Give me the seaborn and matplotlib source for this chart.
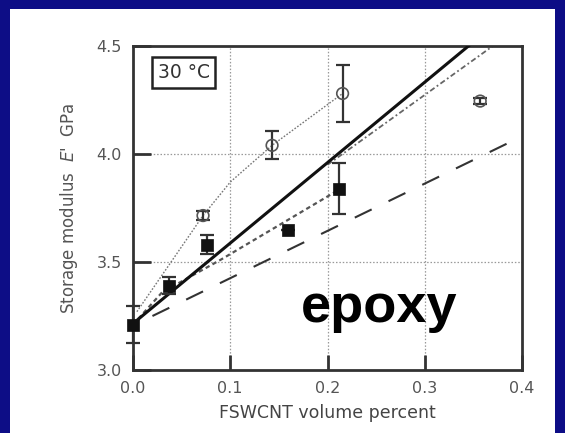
import matplotlib
matplotlib.use("Agg")
import matplotlib.pyplot as plt
import seaborn as sns
import numpy as np
from matplotlib.patches import Rectangle

# ---- data ----
sq_x = [0.0, 0.037, 0.076, 0.159, 0.212]
sq_y = [3.21, 3.39, 3.58, 3.65, 3.84]
sq_err = [0.085, 0.04, 0.045, 0.0, 0.12]

circ_x = [0.072, 0.143, 0.2155, 0.357]
circ_y = [3.715, 4.04, 4.28, 4.245]
circ_err = [0.02, 0.065, 0.13, 0.015]

circ_line_x = [0.004, 0.072, 0.1, 0.143, 0.2155]
circ_line_y = [3.27, 3.715, 3.87, 4.04, 4.28]

solid_x = [0.0, 0.4]
solid_y = [3.215, 4.705]

short_dash_x = [0.0, 0.03, 0.09, 0.21]
short_dash_y = [3.21, 3.36, 3.51, 3.83]

dashdot_x = [0.2, 0.37]
dashdot_y = [3.95, 4.50]

long_dash_x = [0.02, 0.39]
long_dash_y = [3.25, 4.06]

xticks = [0.0, 0.1, 0.2, 0.3, 0.4]
yticks = [3.0, 3.5, 4.0, 4.5]

sns.set_style("white")
plt.rcParams['font.family'] = ['DejaVu Sans']

W, H = 565, 433
fig = plt.figure(figsize=(W / 100, H / 100), dpi=100)
fig.patch.set_facecolor('#0d0d86')
panel = Rectangle((10 / W, 0), 545 / W, (H - 9) / H,
                  transform=fig.transFigure, facecolor='white',
                  edgecolor='none', zorder=-10)
fig.add_artist(panel)

ax = fig.add_axes([133 / W, (H - 370) / H, (522 - 133) / W, (370 - 46) / H])
ax.set_zorder(5)
ax.set_facecolor('white')
ax.set_axisbelow(False)

# grid
for v in [0.1, 0.2, 0.3]:
    ax.axvline(v, color='#999999', lw=0.9, linestyle=(0, (1.2, 1.5)), zorder=1)
for v in [3.5, 4.0]:
    ax.axhline(v, color='#999999', lw=0.9, linestyle=(0, (1.2, 1.5)), zorder=1)

# lines
sns.lineplot(x=circ_line_x, y=circ_line_y, ax=ax, color='#777777', lw=1.0,
             linestyle=(0, (1.2, 1.2)), sort=False, zorder=2)
sns.lineplot(x=solid_x, y=solid_y, ax=ax, color='#111111', lw=2.2,
             sort=False, zorder=3)
sns.lineplot(x=short_dash_x, y=short_dash_y, ax=ax, color='#555555', lw=1.6,
             linestyle=(0, (2, 1.5)), sort=False, zorder=2)
sns.lineplot(x=dashdot_x, y=dashdot_y, ax=ax, color='#666666', lw=1.3,
             linestyle=(0, (3, 1.5, 1, 1.5)), sort=False, zorder=2)
sns.lineplot(x=long_dash_x, y=long_dash_y, ax=ax, color='#333333', lw=1.5,
             linestyle=(0, (9, 9)), sort=False, zorder=2)

# error bars
for xs, ys, es in [(sq_x, sq_y, sq_err), (circ_x, circ_y, circ_err)]:
    eb = ax.errorbar(xs, ys, yerr=es, fmt='none', ecolor='#333333',
                     elinewidth=1.6, capsize=5, capthick=1.6, zorder=4)
    for art in eb.lines[1] + eb.lines[2]:
        art.set_clip_on(False)

# markers
sns.scatterplot(x=sq_x, y=sq_y, ax=ax, marker='s', s=85, color='#111111',
                edgecolor='#111111', linewidth=0.5, zorder=5, clip_on=False)
sns.scatterplot(x=circ_x, y=circ_y, ax=ax, marker='o', s=70, facecolor='none',
                edgecolor='#555555', linewidth=1.2, zorder=5, clip_on=False)

ax.set_xlim(0, 0.4)
ax.set_ylim(3.0, 4.5)
ax.set_xticks(xticks)
ax.set_yticks(yticks)
ax.set_xticklabels([f"{v:.1f}" for v in xticks])
ax.set_yticklabels([f"{v:.1f}" for v in yticks])
ax.tick_params(axis='both', which='major', bottom=True, left=True,
               top=False, right=False, direction='in', length=11, width=2,
               color='#333333', labelcolor='#555555', labelsize=11.5, pad=8)
ax.tick_params(axis='y', length=13)

for s in ax.spines.values():
    s.set_linewidth(2)
    s.set_color('#333333')
    s.set_visible(True)

ax.set_xlabel("FSWCNT volume percent", fontsize=12.5, color='#444444', labelpad=6)
ax.set_ylabel("Storage modulus  $\\it{E}$'  GPa", fontsize=12, color='#555555',
              labelpad=12)

ax.text(0.173, 3.222, "epoxy", fontsize=39, fontweight='bold',
        family='Liberation Sans', color='black', ha='left', va='baseline', zorder=6)
ax.text(0.052, 4.377, "30 °C", fontsize=13.5, color='#333333', ha='center',
        va='center', zorder=6,
        bbox=dict(boxstyle='square,pad=0.3', facecolor='white',
                  edgecolor='#222222', linewidth=1.8))

fig.savefig("out.png", dpi=100, facecolor=fig.get_facecolor())
